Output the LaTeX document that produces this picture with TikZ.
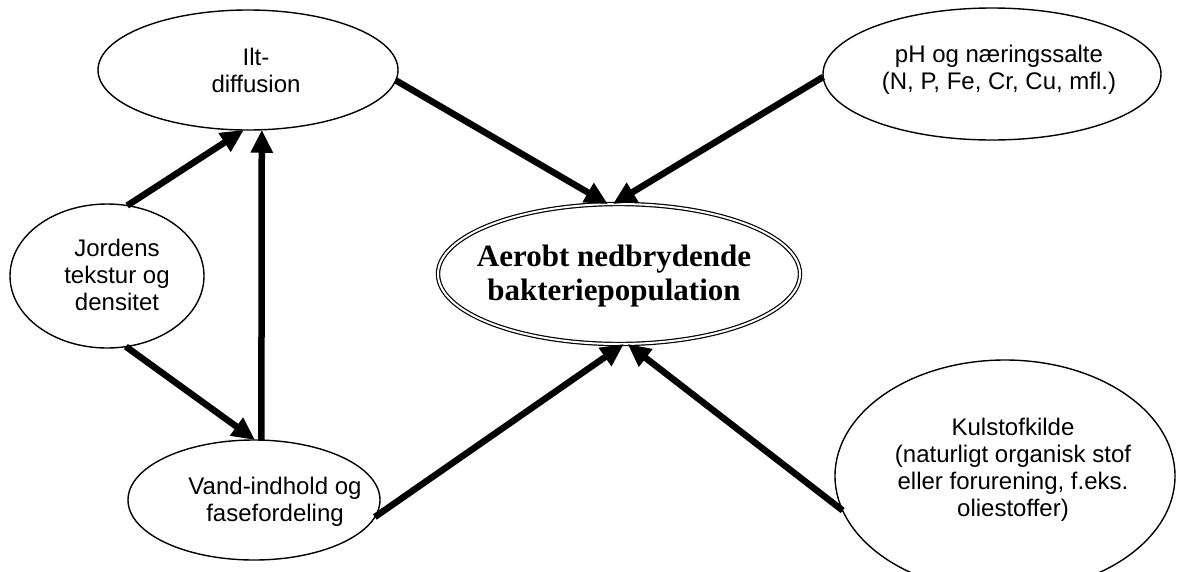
\documentclass[tikz,border=0pt]{standalone}
\usepackage{fontspec}
\setmainfont{Liberation Sans}
\newfontfamily\timesfont{Liberation Serif}
\usetikzlibrary{shapes.geometric,arrows.meta}
\tikzset{
  oval/.style={draw=black, line width=1.4pt, ellipse, inner sep=0pt, outer sep=0pt},
  mainoval/.style={draw=black, line width=1.2pt, double=white, double distance=2pt, ellipse, inner sep=0pt, outer sep=0pt},
  lbl/.style={align=center, font=\fontsize{24}{27}\selectfont, inner sep=0pt},
  mainlbl/.style={align=center, font=\timesfont\bfseries\fontsize{31}{34}\selectfont, inner sep=0pt},
  flow/.style={line width=6.5pt, -{Triangle[length=23pt,width=21pt]}}
}
\begin{document}
\begin{tikzpicture}[x=1pt,y=-1pt]
\useasboundingbox (0,0) rectangle (1178,571);
% ellipses
\node[oval, minimum width=300pt, minimum height=120pt] (ilt) at (248,70) {};
\node[oval, minimum width=338pt, minimum height=132pt] (ph) at (992,74) {};
\node[oval, minimum width=194pt, minimum height=144pt] (jord) at (107,276) {};
\node[oval, minimum width=252pt, minimum height=120pt] (vand) at (254,500) {};
\node[oval, minimum width=340pt, minimum height=232pt] (kul) at (1005,476) {};
\node[mainoval, minimum width=362pt, minimum height=140pt] (bak) at (619,274) {};
% labels
\node[lbl] (iltt) at (256,70) {Ilt-\\diffusion};
\node[lbl] (pht) at (999,70) {pH og næringssalte\\(N, P, Fe, Cr, Cu, mfl.)};
\node[lbl] (jordt) at (117,275) {Jordens\\tekstur og\\densitet};
\node[lbl] (vandt) at (275,502) {Vand-indhold og\\fasefordeling};
\node[lbl] (kult) at (1013,470) {Kulstofkilde\\(naturligt organisk stof\\eller forurening, f.eks.\\oliestoffer)};
\node[mainlbl] (bakt) at (614,276) {Aerobt nedbrydende\\bakteriepopulation};
% connectors
\draw[flow] (ilt.-4) -- (bak.99.7);
\draw[flow] (ph.181) -- (bak.95.7);
\draw[flow] (jord.74.7) -- (ilt.-94.8);
\draw[flow] (vand.83.3) -- (ilt.-77.8);
\draw[flow] (jord.-75.3) -- (vand.89);
\draw[flow] (vand.-8.5) -- (bak.-86.9);
\draw[flow] (kul.192.5) -- (bak.-83.1);
\end{tikzpicture}
\end{document}
